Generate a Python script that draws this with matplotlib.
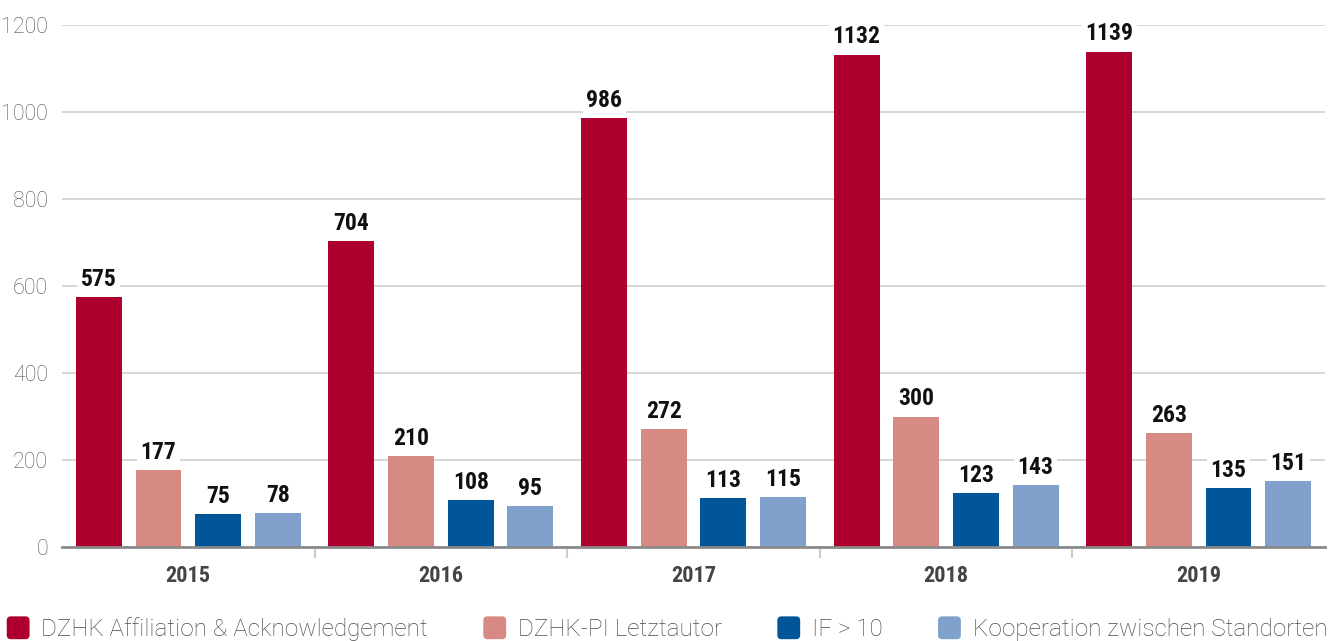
import matplotlib
matplotlib.use("Agg")
import matplotlib.pyplot as plt
from matplotlib.patches import FancyBboxPatch, Patch
from matplotlib.legend_handler import HandlerPatch
import numpy as np

years = ["2015", "2016", "2017", "2018", "2019"]
series = ["DZHK Affiliation & Acknowledgement", "DZHK-PI Letztautor", "IF > 10",
          "Kooperation zwischen Standorten"]
affiliation = [575, 704, 986, 1132, 1139]
letztautor = [177, 210, 272, 300, 263]
if10 = [75, 108, 113, 123, 135]
kooperation = [78, 95, 115, 143, 151]
colors = ["#AE002E", "#D78A84", "#005699", "#80A1CB"]
yticks = [0, 200, 400, 600, 800, 1000, 1200]

values = [affiliation, letztautor, if10, kooperation]

fig = plt.figure(figsize=(13.35, 6.41), dpi=100)
ax = fig.add_axes([62/1335, 1-547/641, (1325-62)/1335, (547-25)/641])

x = np.arange(len(years))
spacing = 0.236
width = 0.182
offsets = (np.arange(4) - 1.5) * spacing

cond = ["Roboto Condensed", "Liberation Sans Narrow", "DejaVu Sans"]
label_font = dict(family=cond, weight="bold", size=17, color="#111111")

for i, (vals, col) in enumerate(zip(values, colors)):
    bars = ax.bar(x + offsets[i], vals, width=width, color=col, zorder=3)
    for b, v in zip(bars, vals):
        ax.text(b.get_x() + b.get_width()/2, v + 14, str(v), ha="center", va="bottom",
                zorder=4, bbox=dict(facecolor="white", edgecolor="none", pad=2.5),
                **label_font)

ax.set_xlim(-0.5, len(years) - 0.5)
ax.set_ylim(0, 1200)
ax.set_yticks(yticks)
ax.yaxis.grid(True, color="#cfcfcf", linewidth=1.2, zorder=0)
ax.set_axisbelow(True)
for s in ["top", "right", "left"]:
    ax.spines[s].set_visible(False)
ax.spines["bottom"].set_color("#8a8a8a")
ax.spines["bottom"].set_linewidth(2)
ax.spines["bottom"].set_zorder(5)

ax.tick_params(axis="y", length=0, pad=10, labelsize=15.5, labelcolor="#555555")
for t in ax.get_yticklabels():
    t.set_family(["Roboto", "DejaVu Sans"])
    t.set_fontweight("light")

ax.set_xticks(x)
ax.set_xticklabels(years)
ax.tick_params(axis="x", length=0, pad=13, labelsize=16, labelcolor="#444444")
for t in ax.get_xticklabels():
    t.set_family(cond)
    t.set_fontweight("bold")

ax.set_xticks(np.arange(0.5, len(years) - 0.5, 1), minor=True)
ax.tick_params(axis="x", which="minor", length=8, width=1.5, color="#cccccc", direction="out")


class RoundHandler(HandlerPatch):
    def create_artists(self, legend, orig_handle, xdescent, ydescent, width, height, fontsize, trans):
        s = min(width, height) * 1.05
        p = FancyBboxPatch((-xdescent + (width - s)/2, -ydescent + (height - s)/2), s, s,
                           boxstyle="round,pad=0,rounding_size=%f" % (s*0.18),
                           facecolor=orig_handle.get_facecolor(), edgecolor="none",
                           transform=trans)
        return [p]

handles = [Patch(facecolor=c, label=s) for c, s in zip(colors, series)]
leg = fig.legend(handles=handles, loc="center left", bbox_to_anchor=(6/1335, 1-629/641),
                 ncol=4, frameon=False, handlelength=1.0, handleheight=1.0,
                 handletextpad=0.45, columnspacing=2.25, borderpad=0, borderaxespad=0,
                 handler_map={Patch: RoundHandler()},
                 prop=dict(family=["Roboto", "DejaVu Sans"], weight="light", size=17.5))
for t in leg.get_texts():
    t.set_color("#4a4a4a")

fig.savefig("out.png", dpi=100)
